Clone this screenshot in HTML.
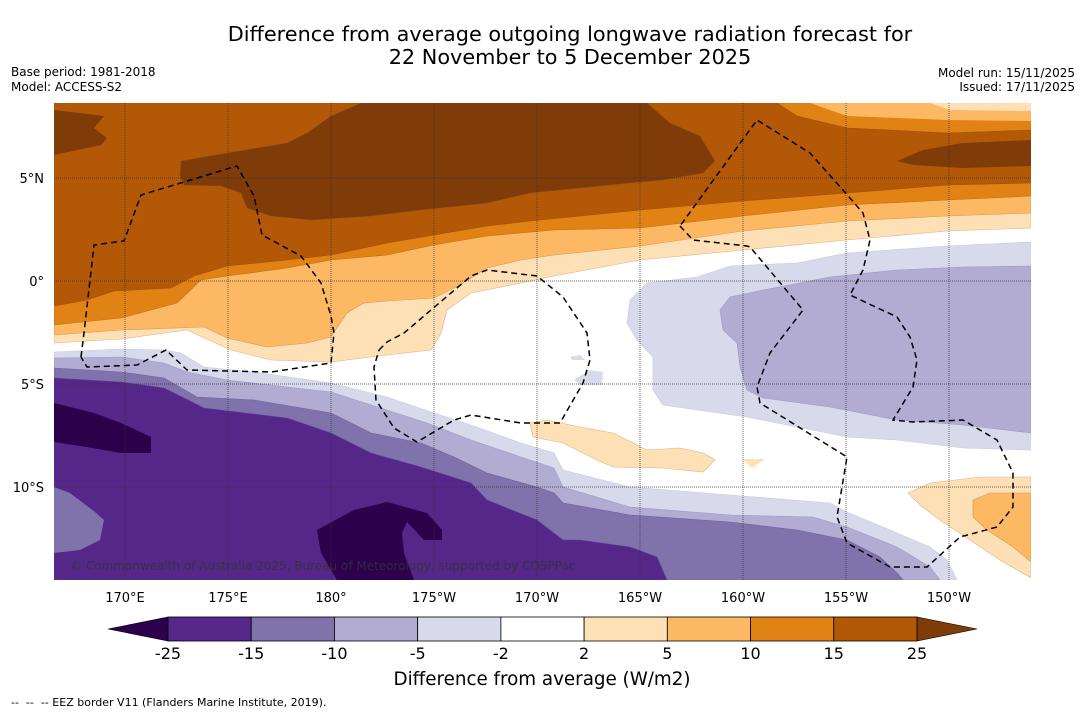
<!DOCTYPE html>
<html><head><meta charset="utf-8"><style>
body{margin:0;background:#fff;width:1085px;height:713px;overflow:hidden;font-family:"Liberation Sans","DejaVu Sans",sans-serif}
svg text{font-family:"DejaVu Sans","Liberation Sans",sans-serif;white-space:pre}
</style></head><body>
<svg id="c" width="1085" height="713" xmlns="http://www.w3.org/2000/svg">
<text x="570" y="41" font-size="20.8" text-anchor="middle">Difference from average outgoing longwave radiation forecast for</text>
<text x="570" y="64" font-size="20.8" text-anchor="middle">22 November to 5 December 2025</text>
<text x="11" y="76" font-size="12">Base period: 1981-2018</text>
<text x="11" y="91" font-size="12">Model: ACCESS-S2</text>
<text x="1075" y="77" font-size="12" text-anchor="end">Model run: 15/11/2025</text>
<text x="1075" y="91" font-size="12" text-anchor="end">Issued: 17/11/2025</text>
<defs><clipPath id="mc"><rect x="54" y="103" width="977" height="477"/></clipPath></defs>
<g id="map" clip-path="url(#mc)"></g>
<g id="axes"></g>
<g id="cbar"></g>
<text x="542" y="685" font-size="18.3" text-anchor="middle">Difference from average (W/m2)</text>
<text x="11" y="706" font-size="11">--  --  -- EEZ border V11 (Flanders Marine Institute, 2019).</text>
</svg>
<script>
const levels=[-25,-15,-10,-5,-2,2,5,10,15,25];
const bandColors=["#542788","#8073ac","#b2abd2","#d8daeb","#ffffff","#fee0b6","#fdb863","#e08214","#b35806"];
const underColor="#2d004b", overColor="#7f3b08";
const lonTicks=["170°E","175°E","180°","175°W","170°W","165°W","160°W","155°W","150°W"];
const lonVals=[170,175,180,185,190,195,200,205,210];
const latTicks=["5°N","0°","5°S","10°S"];
const latVals=[5,0,-5,-10];
const NS="http://www.w3.org/2000/svg";
const X=l=>331+(l-180)*20.6, Y=a=>281-a*20.6;
const map=document.getElementById('map'),axes=document.getElementById('axes'),cb=document.getElementById('cbar');
function poly(par,pts,fill,name,extra){const p=document.createElementNS(NS,'polygon');p.setAttribute('points',pts);p.setAttribute('fill',fill);
p.setAttribute('stroke',extra||'none');p.setAttribute('stroke-width','0.6');


par.appendChild(p);return p;}
const bg=document.createElementNS(NS,'rect');bg.setAttribute('x',54);bg.setAttribute('y',103);bg.setAttribute('width',977);bg.setAttribute('height',477);bg.setAttribute('fill','#fff');map.appendChild(bg);
const T="54,103 1031,103 ";
poly(map,T+"1031,228 947,231 847,240 743,250 640,260 554,276 521,283 471,293 447,310 441,333 431,350 387,355 331,362 271,360 231,350 187,330 121,339 54,343",bandColors[5],'band-2-5',"#e0b080");
poly(map,T+"1031,213 947,216 847,221 743,231 640,246 554,255 521,260 487,268 460,285 434,298 387,301 364,303 347,313 331,337 307,343 267,347 227,338 204,327 121,330 54,335",bandColors[6],'band-5-10',"#d89850");
poly(map,T+"1031,196 947,200 847,205 743,216 640,228 554,230 487,236 434,245 387,255 331,260 287,268 227,276 201,280 177,303 121,318 54,325",bandColors[7],'band-10-15',"#c07020");
poly(map,"54,103 777,103 797,116 847,128 947,133 1031,130 1031,183 947,185 847,193 743,201 640,210 530,221 487,226 434,235 387,243 331,255 287,260 227,266 194,276 171,288 114,291 87,300 54,306",bandColors[8],'band-15-25',"#a05010");
poly(map,"810,103 1031,103 1031,121 947,120 847,116",bandColors[6],'band-5-10-ne');
poly(map,"930,103 1031,103 1031,111 950,110",bandColors[5],'band-2-5-ne');
poly(map,"181,161 227,153 287,143 307,133 331,116 361,103 647,103 670,123 700,136 715,161 703,173 663,180 630,183 530,193 487,203 421,210 371,216 311,220 271,216 247,208 241,193 221,186 184,185 180,176",overColor,'band-over-25-main',"#8a5020");
poly(map,"54,103 54,110 104,116 94,128 107,138 101,145 54,155",overColor,'band-over-25-west');
poly(map,"897,161 923,150 963,143 1031,140 1031,166 963,168 913,165",overColor,'band-over-25-east');
poly(map,"530,423 547,420 580,427 613,433 647,450 680,448 703,453 715,460 703,472 663,468 613,467 597,460 563,443 533,437",bandColors[5],'band-2-5-blob',"#e0b080");
poly(map,"742,459 765,459 752,468",bandColors[5],'band-2-5-speck');
poly(map,"908,493 930,483 980,477 1031,477 1031,578 1000,560 970,540 940,520 920,505",bandColors[5],'band-2-5-se',"#e0b080");
poly(map,"973,500 990,493 1031,493 1031,562 1013,547 987,530 973,517",bandColors[6],'band-5-10-se',"#d89850");
poly(map,"627,323 630,300 647,283 697,277 730,266 797,263 847,253 947,246 1031,242 1031,450 963,448 897,440 847,437 797,427 747,417 697,410 663,405 653,390 653,357 637,340",bandColors[3],'band-m2-m5-ne',"#c8c8e0");
poly(map,"723,330 720,310 730,297 763,290 830,277 897,270 963,267 1031,266 1031,433 963,425 897,420 830,407 763,398 747,390 740,367 737,343",bandColors[2],'band-m5-m10-ne',"#a098c8");
poly(map,"570,357 580,355 585,360 572,360",bandColors[3],'speck-1');
poly(map,"574,380 590,370 603,372 602,385 580,385",bandColors[3],'speck-2');
poly(map,"54,352 121,349 164,350 181,353 204,367 254,372 331,383 387,397 431,412 471,425 521,443 554,453 563,470 630,487 730,495 830,503 847,512 897,533 930,547 947,560 957,580 54,580",bandColors[3],'band-m2-m5',"#c8c8e0");
poly(map,"54,358 121,357 164,363 187,372 227,380 331,392 387,410 427,423 471,440 521,457 554,468 563,487 630,507 730,515 813,517 847,527 897,547 930,567 940,580 54,580",bandColors[2],'band-m5-m10',"#a098c8");
poly(map,"54,368 121,372 164,378 197,397 254,400 331,413 371,433 421,443 454,457 487,473 537,487 554,493 563,503 630,515 730,522 797,530 847,540 880,557 897,573 903,580 54,580",bandColors[1],'band-m10-m15',"#7060a0");
poly(map,"54,378 121,382 164,388 204,408 287,418 331,433 371,453 421,467 471,483 487,500 537,520 550,530 563,540 580,540 630,547 657,557 667,580 54,580",bandColors[0],'band-m15-m25',"#6040a0");
poly(map,"54,487 70,493 95,512 104,520 100,540 80,550 54,553",bandColors[1],'band-m10-m15-sw');
poly(map,"54,403 94,413 121,423 151,437 151,453 121,453 87,447 54,442",underColor,'band-under-25-west');
poly(map,"317,530 354,510 387,502 427,513 442,530 442,540 424,540 407,522 402,533 404,553 414,580 337,580 321,553",underColor,'band-under-25-south');
lonVals.forEach(v=>{const l=document.createElementNS(NS,'line');l.setAttribute('x1',X(v));l.setAttribute('x2',X(v));l.setAttribute('y1',103);l.setAttribute('y2',580);l.setAttribute('stroke','#333');l.setAttribute('stroke-width','0.7');l.setAttribute('stroke-dasharray','1,1');


map.appendChild(l);});
latVals.forEach(v=>{const l=document.createElementNS(NS,'line');l.setAttribute('y1',Y(v));l.setAttribute('y2',Y(v));l.setAttribute('x1',54);l.setAttribute('x2',1031);l.setAttribute('stroke','#333');l.setAttribute('stroke-width','0.7');l.setAttribute('stroke-dasharray','1,1');


map.appendChild(l);});
function eez(pts,name){const p=document.createElementNS(NS,'polyline');p.setAttribute('points',pts);p.setAttribute('fill','none');p.setAttribute('stroke','#000');p.setAttribute('stroke-width','1.5');p.setAttribute('stroke-dasharray','6,4');


map.appendChild(p);}
eez("81,357 84,333 94,245 124,241 141,195 237,166 254,196 262,235 301,256 321,283 331,316 334,333 331,363 271,372 187,370 166,350 137,365 87,367 81,357",'eez-west');
eez("379,350 387,342 404,333 471,276 487,270 537,276 563,297 587,333 590,360 583,383 560,423 530,423 521,423 471,415 454,420 417,442 394,428 376,400 374,367 379,350",'eez-central');
eez("680,226 693,240 747,246 750,247 803,310 770,353 757,387 760,403 847,457 837,517 847,543 890,567 927,567 960,537 997,527 1013,507 1013,473 997,440 963,420 913,422 893,420 913,387 917,360 910,337 897,317 850,295 863,270 870,240 863,213 843,190 810,153 757,120 680,226",'eez-east');
const cp=document.createElementNS(NS,'text');cp.setAttribute('x',70);cp.setAttribute('y',570);cp.setAttribute('font-size','12');cp.setAttribute('fill','#333');cp.setAttribute('fill-opacity','0.8');cp.textContent='© Commonwealth of Australia 2025, Bureau of Meteorology, supported by COSPPac';


map.appendChild(cp);
lonTicks.forEach((t,i)=>{const e=document.createElementNS(NS,'text');e.setAttribute('x',X(lonVals[i]));e.setAttribute('y',602);e.setAttribute('font-size','13');e.setAttribute('text-anchor','middle');e.textContent=t;


axes.appendChild(e);});
latTicks.forEach((t,i)=>{const e=document.createElementNS(NS,'text');e.setAttribute('x',44);e.setAttribute('y',Y(latVals[i])+5);e.setAttribute('font-size','13');e.setAttribute('text-anchor','end');e.textContent=t;


axes.appendChild(e);});
const cx0=168,cx1=917,cy=617,ch=24,bw=(cx1-cx0)/bandColors.length;
poly(cb,`108,${cy+ch/2} ${cx0},${cy} ${cx0},${cy+ch}`,underColor,'colorbar-under-arrow','#000');
poly(cb,`977,${cy+ch/2} ${cx1},${cy} ${cx1},${cy+ch}`,overColor,'colorbar-over-arrow','#000');
bandColors.forEach((c,i)=>{const r=document.createElementNS(NS,'rect');r.setAttribute('x',cx0+i*bw);r.setAttribute('y',cy);r.setAttribute('width',bw);r.setAttribute('height',ch);r.setAttribute('fill',c);r.setAttribute('stroke','#000');r.setAttribute('stroke-width','0.8');


cb.appendChild(r);});
levels.forEach((v,i)=>{const e=document.createElementNS(NS,'text');e.setAttribute('x',cx0+i*bw);e.setAttribute('y',659);e.setAttribute('font-size','16');e.setAttribute('text-anchor','middle');e.textContent=v;


cb.appendChild(e);});
</script>
</body></html>
